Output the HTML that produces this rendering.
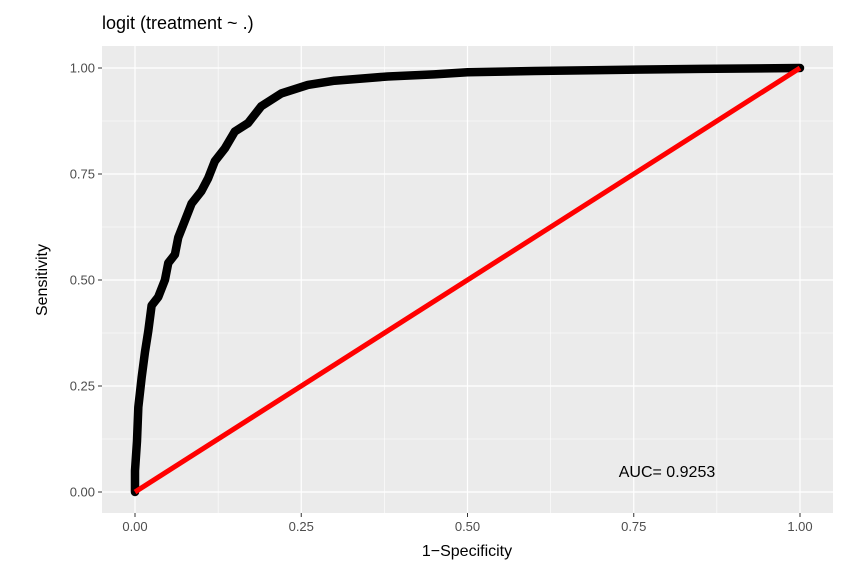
<!DOCTYPE html>
<html><head><meta charset="utf-8"><style>
body{margin:0;background:#fff;}
svg{display:block;font-family:"Liberation Sans",Arial,sans-serif;}
</style></head><body>
<svg id="chart" width="857" height="565">
<text x="102" y="29" font-size="18" fill="#000">logit (treatment ~ .)</text>
<rect x="102" y="46" width="731" height="467" fill="#ebebeb"/>
<g id="grid"></g>
<g id="marks"></g>
<g id="axes"></g>
<text x="667" y="477" font-size="16" text-anchor="middle" fill="#000">AUC= 0.9253</text>
<text x="467" y="556" font-size="16" text-anchor="middle" fill="#000">1−Specificity</text>
<text transform="translate(47,280) rotate(-90)" font-size="16" text-anchor="middle" fill="#000">Sensitivity</text>
</svg>
<script>
const fpr=[0,0,0.003,0.005,0.01,0.015,0.02,0.025,0.035,0.045,0.05,0.06,0.065,0.075,0.085,0.1,0.11,0.12,0.135,0.15,0.17,0.19,0.22,0.26,0.3,0.38,0.45,0.5,0.6,0.7,0.85,1];
const tpr=[0,0.05,0.12,0.2,0.27,0.33,0.38,0.44,0.46,0.5,0.54,0.56,0.6,0.64,0.68,0.71,0.74,0.78,0.81,0.85,0.87,0.91,0.94,0.96,0.97,0.98,0.985,0.99,0.993,0.995,0.998,1];
const ticks=[0,0.25,0.5,0.75,1];
const tickLabels=["0.00","0.25","0.50","0.75","1.00"];
const NS="http://www.w3.org/2000/svg";
const sx=v=>135+v*665, sy=v=>492-v*424;
function mk(tag,attrs,parent){const e=document.createElementNS(NS,tag);for(const k in attrs)e.setAttribute(k,attrs[k]);document.getElementById(parent).appendChild(e);return e;}
const minor=[0.125,0.375,0.625,0.875];
minor.forEach(v=>{
 let l=mk('line',{x1:sx(v),x2:sx(v),y1:46,y2:513,stroke:'#fff','stroke-width':0.6},'grid');
 
 
 l=mk('line',{x1:102,x2:833,y1:sy(v),y2:sy(v),stroke:'#fff','stroke-width':0.6},'grid');
 
 
});
ticks.forEach((v,i)=>{
 let l=mk('line',{x1:sx(v),x2:sx(v),y1:46,y2:513,stroke:'#fff','stroke-width':1.2},'grid');
 
 
 l=mk('line',{x1:102,x2:833,y1:sy(v),y2:sy(v),stroke:'#fff','stroke-width':1.2},'grid');
 
 
 l=mk('line',{x1:sx(v),x2:sx(v),y1:513,y2:517,stroke:'#333','stroke-width':1},'axes');
 
 
 let t=mk('text',{x:sx(v),y:531,'font-size':13,'text-anchor':'middle',fill:'#4d4d4d'},'axes');
 t.textContent=tickLabels[i];
 
 
 l=mk('line',{x1:98,x2:102,y1:sy(v),y2:sy(v),stroke:'#333','stroke-width':1},'axes');
 
 
 t=mk('text',{x:95,y:sy(v)+4.5,'font-size':13,'text-anchor':'end',fill:'#4d4d4d'},'axes');
 t.textContent=tickLabels[i];
 
 
});
const pts=fpr.map((f,i)=>sx(f)+','+sy(tpr[i])).join(' ');
let roc=mk('polyline',{points:pts,fill:'none',stroke:'#000','stroke-width':8.5,'stroke-linejoin':'round','stroke-linecap':'round'},'marks');


let diag=mk('line',{x1:sx(0),y1:sy(0),x2:sx(1),y2:sy(1),stroke:'#ff0000','stroke-width':5},'marks');


</script>
</body></html>
